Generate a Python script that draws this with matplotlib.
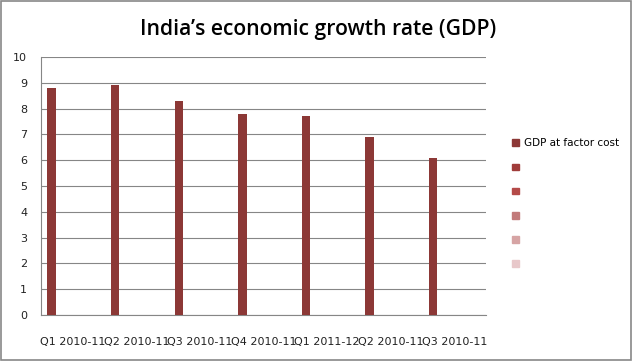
import matplotlib.pyplot as plt
from matplotlib.patches import Patch, Rectangle
import numpy as np

quarters = ['Q1 2010-11', 'Q2 2010-11', 'Q3 2010-11', 'Q4 2010-11',
            'Q1 2011-12', 'Q2 2010-11', 'Q3 2010-11']
gdp_factor_cost = [8.8, 8.9, 8.3, 7.8, 7.7, 6.9, 6.1]
legend_labels = ['GDP at factor cost', '', '', '', '', '']
legend_colors = ['#8c3836', '#a03c3a', '#b44a48', '#c27a7a', '#d6a4a4', '#e8c8ca']

fig = plt.figure(figsize=(6.33, 3.61), dpi=100)
ax = fig.add_axes([41 / 633, 46 / 361, 445 / 633, 258 / 361])

x = np.arange(len(quarters))
w = 1 / 7.5
ax.bar(x - 0.5 + 0.75 * w, gdp_factor_cost, width=w, align='edge',
       color='#8c3836', zorder=3)

ax.set_xlim(-0.5, len(quarters) - 0.5)
ax.set_ylim(0, 10)
ax.set_yticks(range(11))
ax.set_xticks(x)
ax.set_xticklabels(quarters)
ax.tick_params(axis='both', length=0, labelsize=8, colors='#222222')
ax.tick_params(axis='x', pad=16)
ax.tick_params(axis='y', pad=10)
ax.grid(axis='y', color='#868686', linewidth=0.8, zorder=0)
for s in ['top', 'right']:
    ax.spines[s].set_visible(False)
for s in ['left', 'bottom']:
    ax.spines[s].set_color('#868686')
    ax.spines[s].set_linewidth(0.8)

fig.text(318 / 633, 1 - 30 / 361, 'India\u2019s economic growth rate (GDP)',
         ha='center', va='center', fontsize=15.2, fontweight='semibold',
         family='Open Sans')

handles = [Patch(color=c) for c in legend_colors]
fig.legend(handles, legend_labels, loc='upper left',
           bbox_to_anchor=(503 / 633, 1 - 129 / 361), frameon=False,
           handlelength=0.6, handleheight=0.6, handletextpad=0.55,
           labelspacing=1.36, fontsize=7.5)

fig.patches.append(Rectangle((0.002, 0.003), 0.995, 0.994, transform=fig.transFigure,
                             fill=False, edgecolor='#888888', linewidth=1.2))

fig.savefig('out.png', dpi=100)
